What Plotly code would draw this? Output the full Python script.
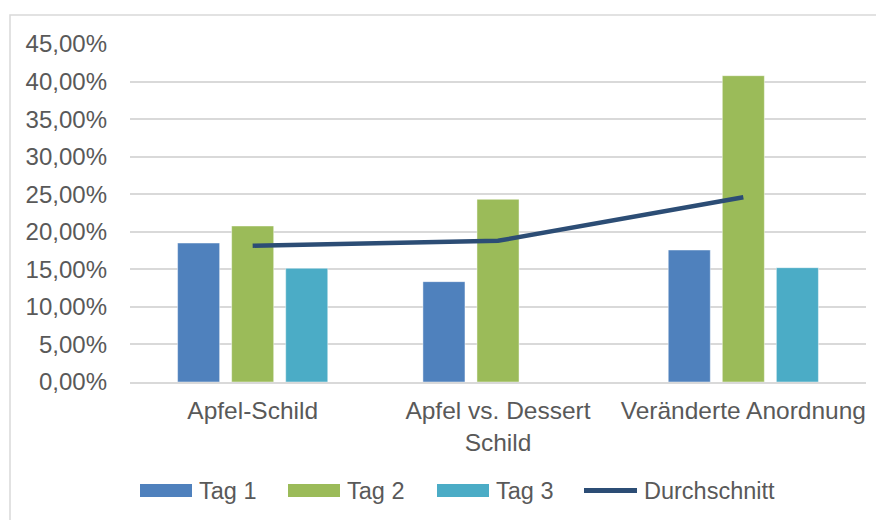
import plotly.graph_objects as go

categories = ["Apfel-Schild", "Apfel vs. Dessert<br>Schild", "Veränderte Anordnung"]
tag1 = [0.185, 0.1336, 0.1757]
tag2 = [0.2077, 0.2432, 0.4078]
tag3 = [0.1514, None, 0.1522]
durchschnitt = [0.1815, 0.1880, 0.2459]

series_names = ["Tag 1", "Tag 2", "Tag 3", "Durchschnitt"]
series_colors = ["#4F81BD", "#9BBB59", "#4BACC6", "#2C4D75"]

y_ticks = [0, 0.05, 0.10, 0.15, 0.20, 0.25, 0.30, 0.35, 0.40, 0.45]

FONT = "Liberation Sans, Arial, sans-serif"
GRAY = "#595959"

# page offset of the plot div (body margin) is 8px; layout in window pixels
W, H = 884 - 8, 520 - 8
PL, PR, PT, PB = 130, 866, 44, 382          # plot area in window pixels


def px(x):
    return (x - PL) / (PR - PL)


def py(y):
    return (PB - y) / (PB - PT)


fig = go.Figure()
bar_line = dict(color="rgba(255,255,255,0.45)", width=1)
for name, vals, col in zip(series_names[:3], [tag1, tag2, tag3], series_colors[:3]):
    fig.add_trace(go.Bar(name=name, x=categories, y=vals,
                         marker=dict(color=col, line=bar_line)))
fig.add_trace(go.Scatter(name=series_names[3], x=categories, y=durchschnitt,
                         mode="lines",
                         line=dict(color=series_colors[3], width=4.5)))

# hand-made legend (wide swatches like the original)
legend_swatch_left = [140, 288, 437, 582]
legend_y = 490.5
shapes = [dict(type="rect", xref="paper", yref="paper",
               x0=px(10), x1=px(900), y0=py(530), y1=py(15),
               line=dict(color="#D9D9D9", width=1.5), fillcolor="rgba(0,0,0,0)",
               layer="below")]
annotations = []
for i, (name, col, lx) in enumerate(zip(series_names, series_colors, legend_swatch_left)):
    if i < 3:
        shapes.append(dict(type="rect", xref="paper", yref="paper",
                           x0=px(lx), x1=px(lx + 52),
                           y0=py(legend_y + 6.5), y1=py(legend_y - 6.5),
                           line=dict(width=0), fillcolor=col))
        tx = lx + 57
    else:
        shapes.append(dict(type="line", xref="paper", yref="paper",
                           x0=px(lx + 2), x1=px(lx + 55),
                           y0=py(legend_y), y1=py(legend_y),
                           line=dict(color=col, width=5)))
        tx = lx + 60
    annotations.append(dict(text=name, xref="paper", yref="paper",
                            x=px(tx), y=py(legend_y), xanchor="left", yanchor="middle",
                            showarrow=False,
                            font=dict(family=FONT, size=23.5, color=GRAY)))

fig.update_layout(
    width=W, height=H,
    margin=dict(l=PL - 8, r=W - (PR - 8), t=PT - 8, b=H - (PB - 8), autoexpand=False),
    paper_bgcolor="white", plot_bgcolor="white",
    barmode="group", bargap=0.339, bargroupgap=0.222,
    separators=",.",
    font=dict(family=FONT, size=24, color=GRAY),
    showlegend=False,
    shapes=shapes,
    annotations=annotations,
)

fig.update_yaxes(range=[0, 0.45], tickvals=y_ticks, tickformat=".2%",
                 showgrid=True, gridcolor="#D9D9D9", gridwidth=1.5,
                 zeroline=False, showline=False, ticks="",
                 ticklabelstandoff=22, automargin=False,
                 tickfont=dict(family=FONT, size=24, color=GRAY))
fig.update_xaxes(showgrid=False, showline=True, linecolor="#D9D9D9", linewidth=1.5,
                 ticks="", ticklabelstandoff=6, automargin=False,
                 tickfont=dict(family=FONT, size=24.5, color=GRAY))

fig.write_html("out.html")
